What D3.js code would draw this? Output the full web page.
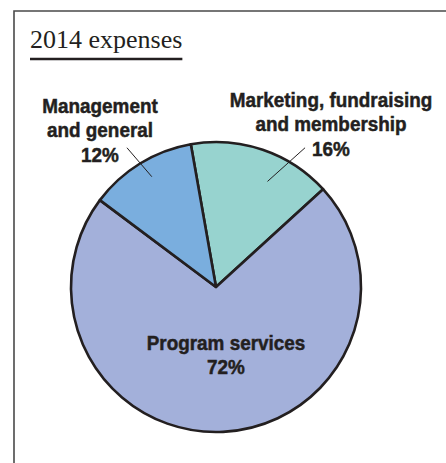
<!DOCTYPE html>
<html>
<head>
<meta charset="utf-8">
<script src="https://cdn.jsdelivr.net/npm/d3@7"></script>
<style>
  html, body { margin: 0; padding: 0; background: #fff; }
  svg { display: block; }
  .lbl { font-family: "Liberation Sans", Arial, sans-serif; font-weight: bold; fill: #231f20; stroke: #231f20; stroke-width: 0.5px; }
</style>
</head>
<body>
<div id="chart"></div>
<script>
// data
const categories = ['Marketing, fundraising and membership', 'Program services', 'Management and general'];
const values = [16, 72, 12];
const labelLines = [
  ['Marketing, fundraising', 'and membership', '16%'],
  ['Program services', '72%'],
  ['Management', 'and general', '12%']
];
const colors = ['#97d3cf', '#a3b0da', '#7aaede'];

const width = 446;
const height = 463;
const cx = 216, cy = 287, radius = 145;
const rad = d => d * Math.PI / 180;

// label placement relative to pie centre (dx, dy of first baseline)
const labelPos = [
  { dx: 115, dy: -180 },
  { dx: 10, dy: 63 },
  { dx: -116, dy: -174 }
];
// leader lines in polar coords (degrees from 12 o'clock, radius factor)
const leaders = [
  { a0: 26, r0: 0.81, a1: 32.6, r1: 1.14 },
  null,
  { a0: -30.2, r0: 0.88, a1: -32.6, r1: 1.14 }
];

const svg = d3.select('#chart').append('svg')
  .attr('width', width)
  .attr('height', height);

// frame
svg.append('path')
  .attr('d', `M14,${height} L14,11 L${width},11`)
  .attr('fill', 'none')
  .attr('stroke', '#4a4a4a')
  .attr('stroke-width', 1.6);

// title
const title = svg.append('text')
  .attr('x', 30)
  .attr('y', 48)
  .style('font-family', '"Liberation Serif", "DejaVu Serif", serif')
  .style('font-size', '26px')
  .attr('fill', '#231f20')
  .text('2014 expenses');
const tw = title.node().getComputedTextLength();
svg.append('line')
  .attr('x1', 30).attr('x2', 30 + tw)
  .attr('y1', 59).attr('y2', 59)
  .attr('stroke', '#231f20')
  .attr('stroke-width', 2.6);

const data = categories.map((c, i) => ({ name: c, value: values[i], lines: labelLines[i] }));

const pie = d3.pie()
  .sort(null)
  .value(d => d.value)
  .startAngle(rad(-10))
  .endAngle(rad(-10) + 2 * Math.PI);

const arc = d3.arc().innerRadius(0).outerRadius(radius);

const g = svg.append('g').attr('transform', `translate(${cx},${cy})`);

g.selectAll('path.slice')
  .data(pie(data))
  .join('path')
  .attr('class', 'slice')
  .attr('d', arc)
  .attr('fill', (d, i) => colors[i])
  .attr('stroke', '#231f20')
  .attr('stroke-width', 2.6)
  .attr('stroke-linejoin', 'round');

// leader lines
const polar = (a, r) => [Math.sin(rad(a)) * r * radius, -Math.cos(rad(a)) * r * radius];
leaders.forEach(l => {
  if (!l) return;
  const p0 = polar(l.a0, l.r0), p1 = polar(l.a1, l.r1);
  g.append('line')
    .attr('x1', p0[0]).attr('y1', p0[1])
    .attr('x2', p1[0]).attr('y2', p1[1])
    .attr('stroke', '#231f20')
    .attr('stroke-width', 1);
});

// labels (condensed look: squeeze horizontally)
data.forEach((d, i) => {
  const t = g.append('g')
    .attr('transform', `translate(${labelPos[i].dx},${labelPos[i].dy}) scale(0.9,1)`)
    .append('text')
    .attr('class', 'lbl')
    .attr('text-anchor', 'middle')
    .style('font-size', '21px');
  t.selectAll('tspan')
    .data(d.lines)
    .join('tspan')
    .attr('x', 0)
    .attr('y', (s, j) => j * 24.5)
    .text(s => s);
});
</script>
</body>
</html>
